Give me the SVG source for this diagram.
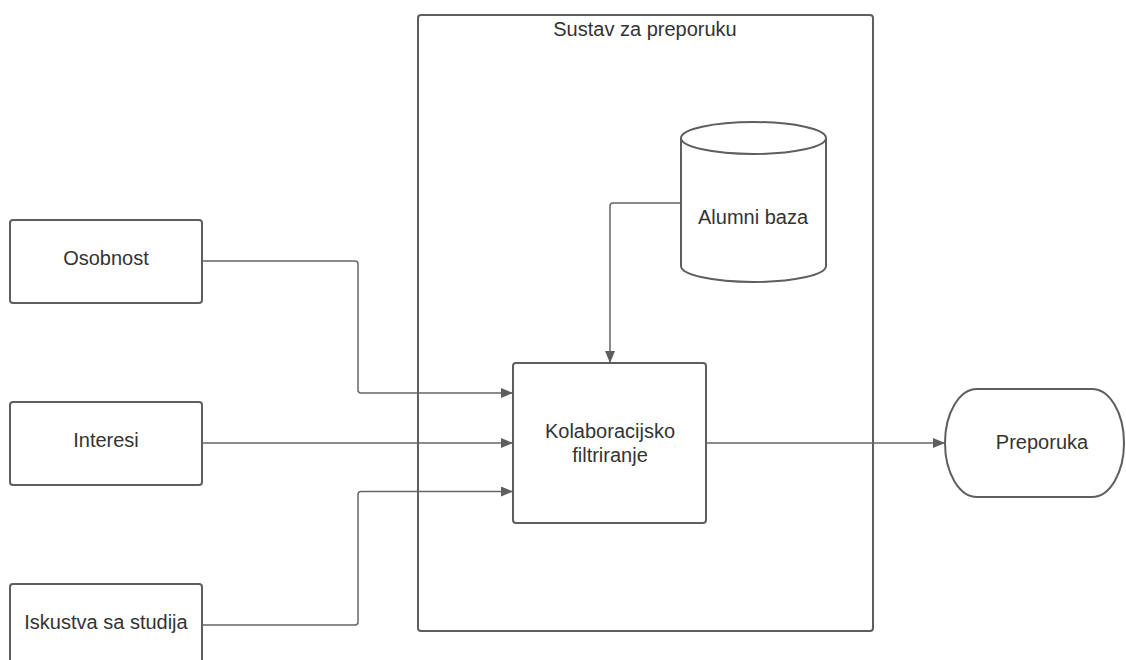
<svg xmlns="http://www.w3.org/2000/svg" width="1126" height="660" viewBox="0 0 1126 660">
<style>
.box{fill:#fff;stroke:#5e5e5e;stroke-width:2}
.t{font-family:"Liberation Sans",Arial,sans-serif;font-size:20px;fill:#333;text-anchor:middle;dominant-baseline:central}
.c{fill:none;stroke:#666;stroke-width:1.5}
</style>
<defs>
<marker id="ah" markerWidth="12" markerHeight="10" refX="11" refY="5" orient="auto" markerUnits="userSpaceOnUse">
<path d="M0,0 L12,5 L0,10 Z" fill="#5e5e5e"/>
</marker>
</defs>
<rect width="1126" height="660" fill="#fff"/>
<g id="sustav">
<rect class="box" x="418" y="15" width="455" height="616" rx="3"/>
<text class="t" x="645" y="29">Sustav za preporuku</text>
</g>
<g id="osobnost">
<rect class="box" x="10" y="220" width="192" height="83" rx="3"/>
<text class="t" x="106" y="258">Osobnost</text>
</g>
<g id="interesi">
<rect class="box" x="10" y="402" width="192" height="83" rx="3"/>
<text class="t" x="106" y="440">Interesi</text>
</g>
<g id="iskustva">
<rect class="box" x="10" y="584" width="192" height="90" rx="3"/>
<text class="t" x="106" y="622">Iskustva sa studija</text>
</g>
<g id="alumni">
<path class="box" d="M681,138 V266 A72.5,16 0 0 0 826,266 V138"/>
<ellipse class="box" cx="753.5" cy="138" rx="72.5" ry="16"/>
<text class="t" x="753" y="217">Alumni baza</text>
</g>
<g id="kolab">
<rect class="box" x="513" y="363" width="193" height="160" rx="3"/>
<text class="t" x="610" y="431">Kolaboracijsko</text>
<text class="t" x="610" y="455">filtriranje</text>
</g>
<g id="preporuka">
<path class="box" d="M977,389 H1092 A32,54 0 0 1 1092,497 H977 A32,54 0 0 1 977,389 Z"/>
<text class="t" x="1042" y="442">Preporuka</text>
</g>
<g id="connectors">
<path class="c" d="M202,261 H355 Q358,261 358,264 V390 Q358,393 361,393 H512" marker-end="url(#ah)"/>
<path class="c" d="M202,443 H512" marker-end="url(#ah)"/>
<path class="c" d="M202,625 H355 Q358,625 358,622 V494.5 Q358,491.5 361,491.5 H512" marker-end="url(#ah)"/>
<path class="c" d="M681,203 H613 Q610,203 610,206 V362" marker-end="url(#ah)"/>
<path class="c" d="M706,443 H944" marker-end="url(#ah)"/>
</g>
</svg>
